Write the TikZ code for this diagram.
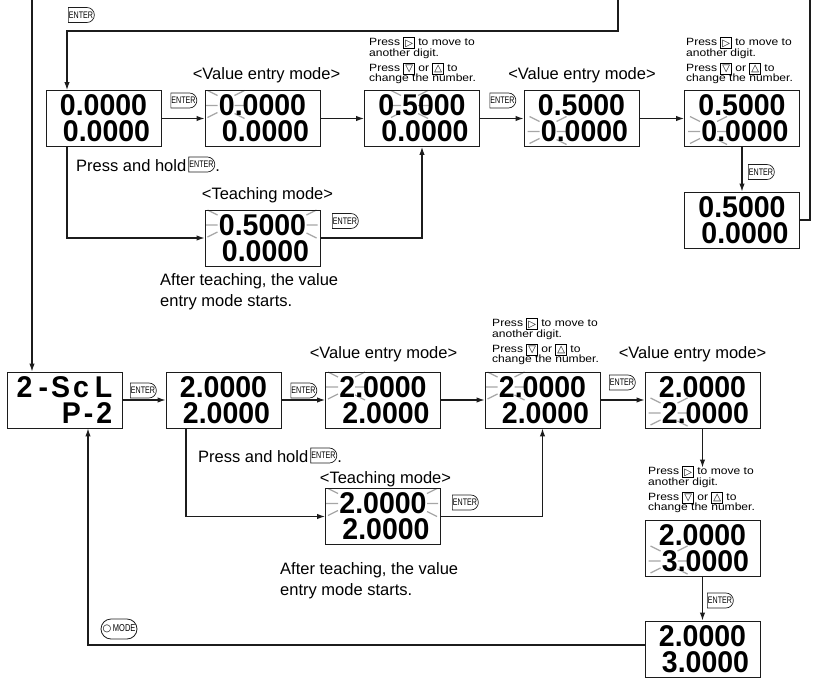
\documentclass[tikz,border=0pt]{standalone}
\usepackage{fontspec}
\setmainfont{Liberation Sans}
\newfontfamily\lcdfont[FakeStretch=0.95]{Liberation Sans}
\newfontfamily\keyfont[FakeStretch=0.75]{Liberation Sans}
\newfontfamily\notefont[FakeStretch=1.15]{Liberation Sans}
\newfontfamily\symfont{DejaVu Sans}
\usetikzlibrary{arrows.meta,calc,positioning,shapes.misc}
\definecolor{ink}{HTML}{1C1C1C}
\definecolor{blinkgray}{HTML}{A6A6A6}
\pgfdeclarelayer{marks}
\pgfsetlayers{marks,main}
\tikzset{
  flowarr/.style={-{Latex[length=8pt,width=5.4pt]},line width=1.1pt,draw=ink},
  wire/.style={line width=1.1pt,draw=ink},
  lcdbox/.style={draw=ink,line width=0.9pt,minimum width=115pt,minimum height=56pt,inner sep=0pt,align=center,
    font=\lcdfont\bfseries\fontsize{30}{26}\selectfont},
  enterkey/.style={draw=ink,line width=0.7pt,rounded rectangle,rounded rectangle left arc=none,
    minimum width=28pt,minimum height=15pt,inner xsep=1pt,inner ysep=0pt,font=\keyfont\fontsize{9.5}{9.5}\selectfont},
  modekey/.style={draw=ink,line width=0.8pt,rounded rectangle,minimum width=40pt,minimum height=20pt,
    inner xsep=2pt,inner ysep=0pt,font=\keyfont\fontsize{10}{10}\selectfont},
  modetitle/.style={inner sep=0pt,anchor=base,font=\fontsize{16.5}{20}\selectfont},
  plaintxt/.style={inner sep=0pt,font=\fontsize{16.5}{21}\selectfont},
  bodytxt/.style={inner sep=0pt,align=left,anchor=north west,font=\fontsize{16.5}{21}\selectfont},
  notetxt/.style={inner sep=0pt,align=left,anchor=north west,font=\notefont\fontsize{10.5}{10.5}\selectfont},
  blinkmark/.style={draw=blinkgray,line width=1.2pt}
}
\newcommand\lcdrows[2]{#1\\\hspace*{6pt}#2}
\newcommand\keyglyph[1]{\raisebox{-0.5pt}[0pt][0pt]{\setlength{\fboxsep}{0.5pt}\setlength{\fboxrule}{0.8pt}%
  \fbox{\rule[-0.3pt]{0pt}{8pt}\makebox[9pt]{\symfont\fontsize{10}{10}\selectfont #1}}}}
\newcommand\notelines{Press \keyglyph{▷} to move to\\another digit.\\[4.5pt]Press \keyglyph{▽} or \keyglyph{△} to\\change the number.}
% flashing digit: node, offset of the digit from the node centre
\newcommand\blinkL[3]{%
  \draw[blinkmark] ($(#1)+(#2,#3)+(-19,-15)$) -- ++(10,5)
    ($(#1)+(#2,#3)+(-21,0)$) -- ++(12,0)
    ($(#1)+(#2,#3)+(-19,12)$) -- ++(10,-5);}
\newcommand\blinkR[3]{%
  \draw[blinkmark] ($(#1)+(#2,#3)+(8,-10)$) -- ++(10,-5)
    ($(#1)+(#2,#3)+(8,0)$) -- ++(11,0)
    ($(#1)+(#2,#3)+(8,8)$) -- ++(10,5);}
\newcommand\blinkat[3]{\blinkL{#1}{#2}{#3}\blinkR{#1}{#2}{#3}}

\begin{document}
\begin{tikzpicture}[x=1pt,y=-1pt]
  \useasboundingbox (0,0) rectangle (815,678);

  % upper sequence
  \node[lcdbox] (A1) at (103.5,118.5) {\lcdrows{0.0000}{0.0000}};
  \node[lcdbox] (A2) at (262.5,118.5) {\lcdrows{0.0000}{0.0000}};
  \node[lcdbox] (A3) at (422,118.5) {\lcdrows{0.5000}{0.0000}};
  \node[lcdbox] (A4) at (581.5,118.5) {\lcdrows{0.5000}{0.0000}};
  \node[lcdbox] (A5) at (742,118.5) {\lcdrows{0.5000}{0.0000}};
  \node[lcdbox] (A6) at (742,220) {\lcdrows{0.5000}{0.0000}};
  \node[lcdbox] (A7) at (262.5,238) {\lcdrows{0.5000}{0.0000}};

  \node[modetitle] (tA2) at (266.5,79.5) {<Value entry mode>};
  \node[modetitle] (tA4) at (582,79.5) {<Value entry mode>};
  \node[modetitle] (tA7) at (267.5,199) {<Teaching mode>};

  \node[notetxt] (nA3) at (369,38.5) {\notelines};
  \node[notetxt] (nA5) at (686,38.5) {\notelines};

  \node[plaintxt,anchor=base west] (holdA) at (76,171) {Press and hold};
  \node[enterkey,anchor=west] (holdkeyA) at ($(holdA.base east)+(2,-6.5)$) {ENTER};
  \node[plaintxt,anchor=base west] (holddotA) at (holdkeyA.east |- holdA.base) {.};
  \node[bodytxt] (afterA) at (160,273) {After teaching, the value\\entry mode starts.};

  \node[enterkey] (kA0) at (81,15) {ENTER};
  \node[enterkey] (kA12) at (183.5,100.5) {ENTER};
  \node[enterkey] (kA34) at (502.5,100.5) {ENTER};
  \node[enterkey] (kA56) at (761,172) {ENTER};
  \node[enterkey] (kA7) at (345,221) {ENTER};

  \coordinate (topin) at (618,0);
  \coordinate (loopA) at (67,31);
  \coordinate (exitR) at (810,0);
  \coordinate (entryL) at (32,0);

  \draw[flowarr] (topin) |- (loopA) -- (loopA |- A1.north);
  \draw[flowarr] (A1) -- (A2);
  \draw[flowarr] (A2) -- (A3);
  \draw[flowarr] (A3) -- (A4);
  \draw[flowarr] (A4) -- (A5);
  \draw[flowarr] (A5) -- (A6);
  \draw[wire] (A6) -| (exitR);
  \draw[flowarr] (loopA |- A1.south) |- (A7);
  \draw[flowarr] (A7) -| (A3);

  % lower sequence
  \node[lcdbox,align=right] (B1) at (64.5,400) {2\hspace{6pt}-\hspace{3pt}S\hspace{3pt}c\hspace{6pt}L\\P\hspace{3pt}-\hspace{3pt}2};
  \node[lcdbox] (B2) at (223.5,400) {\lcdrows{2.0000}{2.0000}};
  \node[lcdbox] (B3) at (383,400) {\lcdrows{2.0000}{2.0000}};
  \node[lcdbox] (B4) at (542.5,400) {\lcdrows{2.0000}{2.0000}};
  \node[lcdbox] (B5) at (702.5,400) {\lcdrows{2.0000}{2.0000}};
  \node[lcdbox] (B6) at (702.5,548) {\lcdrows{2.0000}{3.0000}};
  \node[lcdbox] (B7) at (702.5,649) {\lcdrows{2.0000}{3.0000}};
  \node[lcdbox] (B8) at (383,516.5) {\lcdrows{2.0000}{2.0000}};

  \node[modetitle] (tB3) at (383.5,358) {<Value entry mode>};
  \node[modetitle] (tB5) at (692.5,358) {<Value entry mode>};
  \node[modetitle] (tB8) at (385.5,483) {<Teaching mode>};

  \node[notetxt] (nB4) at (492,319.5) {\notelines};
  \node[notetxt] (nB6) at (648,467.5) {\notelines};

  \node[plaintxt,anchor=base west] (holdB) at (198,462) {Press and hold};
  \node[enterkey,anchor=west] (holdkeyB) at ($(holdB.base east)+(2,-6.5)$) {ENTER};
  \node[plaintxt,anchor=base west] (holddotB) at (holdkeyB.east |- holdB.base) {.};
  \node[bodytxt] (afterB) at (280,562) {After teaching, the value\\entry mode starts.};

  \node[enterkey] (kB12) at (143,390.5) {ENTER};
  \node[enterkey] (kB23) at (303.5,390.5) {ENTER};
  \node[enterkey] (kB45) at (622,382.5) {ENTER};
  \node[enterkey] (kB8) at (465,502.5) {ENTER};
  \node[enterkey] (kB67) at (720,600.5) {ENTER};
  \node[modekey] (kmode) at (119,629) {{\symfont\bfseries\fontsize{10}{10}\selectfont ○}\,MODE};

  \coordinate (turnB) at (186,517);
  \coordinate (modeturn) at (88,645);

  \draw[flowarr] (entryL) -- (entryL |- B1.north);
  \draw[flowarr] (B1) -- (B2);
  \draw[flowarr] (B2) -- (B3);
  \draw[flowarr] (B3) -- (B4);
  \draw[flowarr] (B4) -- (B5);
  \draw[flowarr] (B5.south) -- (B5.south |- nB6.north);
  \draw[flowarr] (B6) -- (B7);
  \draw[flowarr] (turnB |- B2.south) |- (B8);
  \draw[flowarr] (B8) -| (B4);
  \draw[flowarr] (B7.west |- modeturn) -- (modeturn) -- (modeturn |- B1.south);

  % flashing digits
  \begin{pgfonlayer}{marks}
    \blinkat{A2}{-36}{-13}
    \blinkat{A3}{-12}{-13}
    \blinkat{A4}{-33}{13}
    \blinkat{A5}{-33}{13}
    \blinkL{A7}{-36}{-13}\blinkR{A7}{36}{-13}
    \blinkat{B3}{-36}{-13}
    \blinkat{B4}{-36}{-13}
    \blinkat{B5}{-33}{13}
    \blinkat{B6}{-33}{13}
    \blinkL{B8}{-36}{-13}\blinkR{B8}{36}{-13}
  \end{pgfonlayer}
\end{tikzpicture}
\end{document}
